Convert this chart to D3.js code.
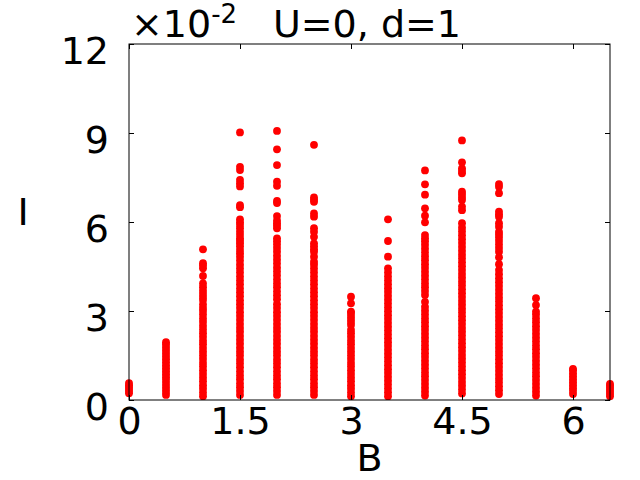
<!DOCTYPE html>
<html><head><meta charset="utf-8">
<script src="https://cdn.jsdelivr.net/npm/d3@7"></script>
<style>body{margin:0;background:#fff}svg{display:block}</style></head>
<body><svg id="c" width="640" height="480"></svg>
<script>
// B values of each column
const fieldB = [0, 0.5, 1, 1.5, 2, 2.5, 3, 3.5, 4, 4.5, 5, 5.5, 6, 6.5];
// I values (x10^-2) read per column
const I_B00 = [0.23,0.3,0.37,0.44,0.5,0.57];
const I_B05 = [0.17,0.27,0.37,0.47,0.57,0.67,0.77,0.87,0.97,1.07,1.17,1.27,1.37,1.47,1.57,1.67,1.77,1.87,1.95];
const I_B10 = [0.13,0.25,0.38,0.5,0.63,0.75,0.88,1.0,1.13,1.25,1.38,1.5,1.63,1.75,1.88,2.0,2.13,2.25,2.38,2.5,2.63,2.75,2.88,3.0,3.1,3.22,3.37,3.47,3.57,3.68,3.8,3.93,4.18,4.44,4.53,4.61,5.08];
const I_B15 = [0.17,0.3,0.43,0.56,0.7,0.83,0.96,1.1,1.23,1.36,1.5,1.63,1.76,1.9,2.03,2.16,2.3,2.43,2.56,2.7,2.83,2.96,3.1,3.23,3.36,3.5,3.63,3.76,3.9,4.03,4.16,4.3,4.43,4.56,4.7,4.83,4.95,5.06,5.18,5.28,5.37,5.45,5.56,5.67,5.79,5.9,5.99,6.09,6.5,6.57,7.2,7.31,7.42,7.75,7.86,9.02];
const I_B20 = [0.17,0.3,0.43,0.56,0.7,0.83,0.96,1.1,1.23,1.36,1.5,1.63,1.76,1.9,2.03,2.16,2.3,2.43,2.56,2.7,2.83,2.96,3.1,3.23,3.4,3.53,3.66,3.8,3.93,4.06,4.2,4.33,4.46,4.6,4.73,4.86,5.0,5.12,5.24,5.35,5.45,5.79,5.88,5.96,6.05,6.2,6.64,6.71,7.22,7.36,7.92,8.45,9.07];
const I_B25 = [0.17,0.3,0.43,0.56,0.7,0.83,0.96,1.1,1.23,1.36,1.5,1.63,1.76,1.9,2.03,2.16,2.3,2.43,2.56,2.7,2.83,2.96,3.1,3.23,3.36,3.5,3.63,3.76,3.9,4.03,4.16,4.3,4.43,4.56,4.66,4.83,5.0,5.08,5.18,5.28,5.5,5.67,5.79,6.18,6.29,6.68,6.75,6.83,8.6];
const I_B30 = [0.13,0.25,0.38,0.5,0.63,0.75,0.88,1.0,1.13,1.25,1.38,1.5,1.63,1.75,1.88,2.0,2.13,2.25,2.36,2.53,2.63,2.73,2.83,2.93,2.98,3.26,3.48];
const I_B35 = [0.13,0.26,0.39,0.52,0.65,0.78,0.91,1.04,1.17,1.3,1.43,1.56,1.69,1.82,1.95,2.08,2.21,2.34,2.47,2.6,2.73,2.86,2.99,3.12,3.25,3.38,3.51,3.64,3.77,3.9,4.03,4.16,4.3,4.44,4.83,5.36,6.09];
const I_B40 = [0.15,0.28,0.41,0.54,0.67,0.8,0.93,1.06,1.19,1.32,1.45,1.58,1.71,1.84,1.97,2.1,2.23,2.36,2.49,2.62,2.75,2.88,3.01,3.14,3.31,3.54,3.67,3.8,3.93,4.06,4.19,4.32,4.45,4.58,4.71,4.84,4.97,5.1,5.23,5.35,5.45,5.56,5.99,6.21,6.46,6.92,7.27,7.74];
const I_B45 = [0.22,0.35,0.48,0.61,0.74,0.87,1.0,1.13,1.26,1.39,1.52,1.65,1.78,1.91,2.04,2.17,2.3,2.43,2.56,2.69,2.82,2.95,3.08,3.21,3.34,3.47,3.6,3.73,3.86,3.99,4.12,4.25,4.38,4.51,4.64,4.77,4.9,5.03,5.16,5.29,5.42,5.55,5.68,5.81,5.96,6.4,6.52,6.74,6.83,6.93,7.02,7.64,7.72,7.81,8.01,8.75];
const I_B50 = [0.2,0.33,0.46,0.59,0.72,0.85,0.98,1.11,1.24,1.37,1.5,1.63,1.76,1.89,2.02,2.15,2.28,2.41,2.54,2.67,2.8,2.93,3.06,3.19,3.32,3.45,3.58,3.71,3.84,3.97,4.1,4.24,4.38,4.58,4.81,5.0,5.12,5.24,5.36,5.48,5.58,5.67,5.84,5.96,6.18,6.26,6.35,6.97,7.19,7.28];
const I_B55 = [0.15,0.28,0.41,0.54,0.67,0.8,0.93,1.06,1.19,1.32,1.45,1.58,1.71,1.84,1.97,2.1,2.23,2.36,2.49,2.62,2.75,2.88,2.98,3.2,3.43];
const I_B60 = [0.2,0.3,0.4,0.5,0.6,0.7,0.8,0.9,1.0,1.05];
const I_B65 = [0.13,0.2,0.27,0.34,0.41,0.48,0.54];
const xTicks = [0, 1.5, 3, 4.5, 6];
const yTicks = [0, 3, 6, 9, 12];
const xLabel = "B", yLabel = "I";
const titleText = "U=0, d=1";

const columns = [I_B00,I_B05,I_B10,I_B15,I_B20,I_B25,I_B30,I_B35,I_B40,I_B45,I_B50,I_B55,I_B60,I_B65];
const points = [];
columns.forEach((vals, i) => vals.forEach(v => points.push({b: fieldB[i], v})));

const L = 129, R = 610, T = 44, Bt = 400;
const x = d3.scaleLinear().domain([0, 6.5]).range([L, R]);
const y = d3.scaleLinear().domain([0, 12]).range([Bt, T]);
const svg = d3.select("#c");
const FONT = "DejaVu Sans";

// points
svg.append("g").selectAll("circle").data(points).join("circle")
  .attr("cx", d => x(d.b)).attr("cy", d => y(d.v)).attr("r", 3.9)
  .attr("fill", "#ff0000");

// axes
const gx = svg.append("g").attr("transform", `translate(0,${Bt})`)
  .call(d3.axisBottom(x).tickValues(xTicks).tickSize(-5).tickFormat(d3.format("")));
gx.selectAll("text").attr("y", 34).attr("dy", null);
const gxt = svg.append("g").attr("transform", `translate(0,${T})`)
  .call(d3.axisTop(x).tickValues(xTicks).tickSize(-5).tickFormat(""));
const gy = svg.append("g").attr("transform", `translate(${L},0)`)
  .call(d3.axisLeft(y).tickValues(yTicks).tickSize(-5).tickPadding(20).tickFormat(d3.format("")));
gy.selectAll("text").attr("dy", 19);
const gyr = svg.append("g").attr("transform", `translate(${R},0)`)
  .call(d3.axisRight(y).tickValues(yTicks).tickSize(-5).tickFormat(""));
[gx, gxt, gy, gyr].forEach(g => {
  g.select(".domain").remove();
  g.selectAll("line").attr("stroke", "#000").attr("stroke-width", 1);
  g.selectAll("text").attr("font-family", FONT).attr("font-size", 38).attr("fill", "#000");
});
svg.append("rect").attr("x", L).attr("y", T).attr("width", R - L).attr("height", Bt - T)
  .attr("fill", "none").attr("stroke", "#000").attr("stroke-width", 1);

// labels
svg.append("text").attr("x", (L + R) / 2).attr("y", 471).attr("text-anchor", "middle")
  .attr("font-family", FONT).attr("font-size", 38).text(xLabel);
svg.append("text").attr("x", 23).attr("y", 225).attr("text-anchor", "middle")
  .attr("font-family", FONT).attr("font-size", 38).text(yLabel);
const mult = svg.append("text").attr("x", 131).attr("y", 37)
  .attr("font-family", FONT).attr("font-size", 38);
mult.append("tspan").text("×10");
mult.append("tspan").attr("font-size", 26).attr("dy", -14).text("-2");
svg.append("text").attr("x", 367).attr("y", 37).attr("text-anchor", "middle")
  .attr("font-family", FONT).attr("font-size", 38).text(titleText);
</script></body></html>
